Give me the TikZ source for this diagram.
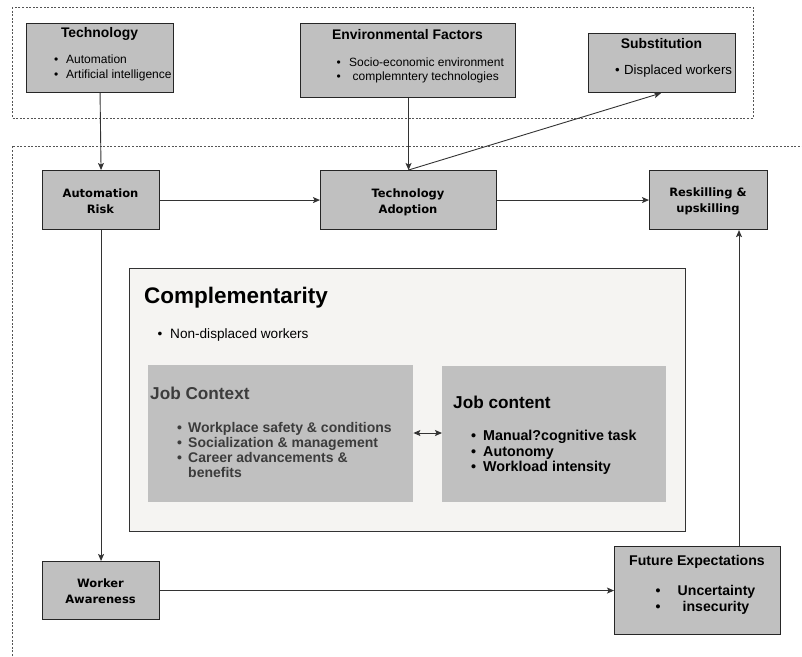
\documentclass[tikz,border=0pt]{standalone}
\usepackage{fontspec}
\setmainfont{Liberation Sans}
\newfontfamily\dejavu{DejaVu Sans}
\usetikzlibrary{arrows.meta}
\definecolor{boxgray}{HTML}{C0C0C0}
\definecolor{compfill}{HTML}{F5F4F2}
\definecolor{linegray}{HTML}{333333}
\definecolor{dashgray}{HTML}{555555}
\definecolor{ctxtext}{HTML}{3C3C3C}
\tikzset{
  graybox/.style={draw=black!85, line width=1.1pt, fill=boxgray, inner sep=0pt, anchor=north west},
  softbox/.style={fill=boxgray, inner sep=0pt, anchor=north west},
  outerdash/.style={draw=dashgray, line width=0.8pt, dash pattern=on 2pt off 1.6pt},
  conn/.style={draw=linegray, line width=0.9pt, -{Stealth[length=7pt,width=6pt,inset=1.5pt]}},
  txt/.style={inner sep=0pt, anchor=base},
  txtl/.style={inner sep=0pt, anchor=base west},
  ttl/.style={txt, font=\bfseries\fontsize{13.9}{16}\selectfont},
  smb/.style={txtl, font=\fontsize{12}{14}\selectfont},
  flow/.style={txt, font=\dejavu\bfseries\fontsize{11.5}{14}\selectfont},
  futf/.style={txt, font=\bfseries\fontsize{14.1}{16}\selectfont},
  ctxb/.style={txtl, text=ctxtext, font=\bfseries\fontsize{14}{16}\selectfont},
  cntb/.style={txtl, font=\bfseries\fontsize{14.3}{16}\selectfont},
}
\begin{document}
\begin{tikzpicture}[x=1pt,y=-1pt]
\useasboundingbox (0,0) rectangle (802,656);

% outer dashed regions
\draw[outerdash] (12,7) rectangle (753,118);
\draw[outerdash] (12,656) -- (12,146) -- (802,146);

% top boxes
\node[graybox, minimum width=147pt, minimum height=69pt] (tech) at (26,23) {};
\node[ttl] (techT) at (99.5,37) {Technology};
\node[smb] (techB1) at (54,63) {\makebox[12pt][l]{•}Automation};
\node[smb] (techB2) at (54,78) {\makebox[12pt][l]{•}Artificial intelligence};

\node[graybox, minimum width=215pt, minimum height=74pt] (env) at (300,23) {};
\node[ttl] (envT) at (407.5,39) {Environmental Factors};
\node[smb] (envB1) at (336.5,66) {\makebox[12.5pt][l]{•}Socio-economic environment};
\node[smb] (envB2) at (336.5,80) {\makebox[12.5pt][l]{•}\hspace{3.5pt}complemntery technologies};

\node[graybox, minimum width=147pt, minimum height=59pt] (sub) at (588,33) {};
\node[ttl] (subT) at (661.5,48) {Substitution};
\node[smb, font=\fontsize{13.2}{15}\selectfont] (subB1) at (615,74) {\makebox[9pt][l]{•}Displaced workers};

% flow boxes
\node[graybox, minimum width=117pt, minimum height=59pt] (risk) at (42,170) {};
\node[flow] (riskT1) at (100.5,197) {Automation};
\node[flow] (riskT2) at (100.5,213) {Risk};

\node[graybox, minimum width=176pt, minimum height=59pt] (adopt) at (320,170) {};
\node[flow] (adoptT1) at (408,197) {Technology};
\node[flow] (adoptT2) at (408,213) {Adoption};

\node[graybox, minimum width=118pt, minimum height=59pt] (resk) at (649,170) {};
\node[flow] (reskT1) at (708,196) {Reskilling \&};
\node[flow] (reskT2) at (708,212) {upskilling};

\node[graybox, minimum width=117pt, minimum height=58pt] (work) at (42,561) {};
\node[flow] (workT1) at (100.5,587) {Worker};
\node[flow] (workT2) at (100.5,603) {Awareness};

\node[graybox, minimum width=166pt, minimum height=88pt] (fut) at (614,546) {};
\node[futf] (futT) at (697,565) {Future Expectations};
\node[futf] (futB1) at (716.5,595) {Uncertainty};
\node[futf] (futB2) at (716,611) {insecurity};
\node[futf] (futD1) at (658,595) {•};
\node[futf] (futD2) at (658,611) {•};

% complementarity
\node[draw=black!80, line width=0.9pt, fill=compfill, inner sep=0pt, anchor=north west,
      minimum width=556pt, minimum height=263pt] (comp) at (129,268) {};
\node[txtl, font=\bfseries\fontsize{22.5}{26}\selectfont] (compT) at (144,303) {Complementarity};
\node[txtl, font=\fontsize{13.6}{16}\selectfont] (compB) at (157.5,338) {\makebox[12.5pt][l]{•}Non-displaced workers};

\node[softbox, minimum width=265pt, minimum height=137pt] (ctx) at (148,365) {};
\node[txtl, text=ctxtext, font=\bfseries\fontsize{17.2}{20}\selectfont] (ctxT) at (150,399) {Job Context};
\node[ctxb] (ctx1) at (177,432.5) {\makebox[11pt][l]{•}Workplace safety \& conditions};
\node[ctxb] (ctx2) at (177,447.5) {\makebox[11pt][l]{•}Socialization \& management};
\node[ctxb] (ctx3) at (177,462.5) {\makebox[11pt][l]{•}Career advancements \&};
\node[ctxb] (ctx4) at (188,477.5) {benefits};

\node[softbox, minimum width=224pt, minimum height=136pt] (cnt) at (442,366) {};
\node[txtl, font=\bfseries\fontsize{17.2}{20}\selectfont] (cntT) at (453,408) {Job content};
\node[cntb] (cnt1) at (471,440.5) {\makebox[12pt][l]{•}Manual?cognitive task};
\node[cntb] (cnt2) at (471,456) {\makebox[12pt][l]{•}Autonomy};
\node[cntb] (cnt3) at (471,471.5) {\makebox[12pt][l]{•}Workload intensity};

% connectors
\coordinate (x739) at (739,0);
\coordinate (y433) at (0,433);
\draw[conn] (tech.south) -- (risk.north);
\draw[conn] (env.south -| adopt.north) -- (adopt.north);
\draw[conn] (adopt.north) -- ([xshift=-1pt]sub.south);
\draw[conn] (risk.east) -- (adopt.west);
\draw[conn] (adopt.east) -- (resk.west);
\draw[conn] (risk.south) -- (work.north);
\draw[conn] (work.east) -- (fut.west);
\draw[conn] (fut.north -| x739) -- (resk.south -| x739);
\draw[conn, {Stealth[length=7pt,width=6pt,inset=1.5pt]}-{Stealth[length=7pt,width=6pt,inset=1.5pt]}] (ctx.east |- y433) -- (cnt.west |- y433);
\end{tikzpicture}
\end{document}
